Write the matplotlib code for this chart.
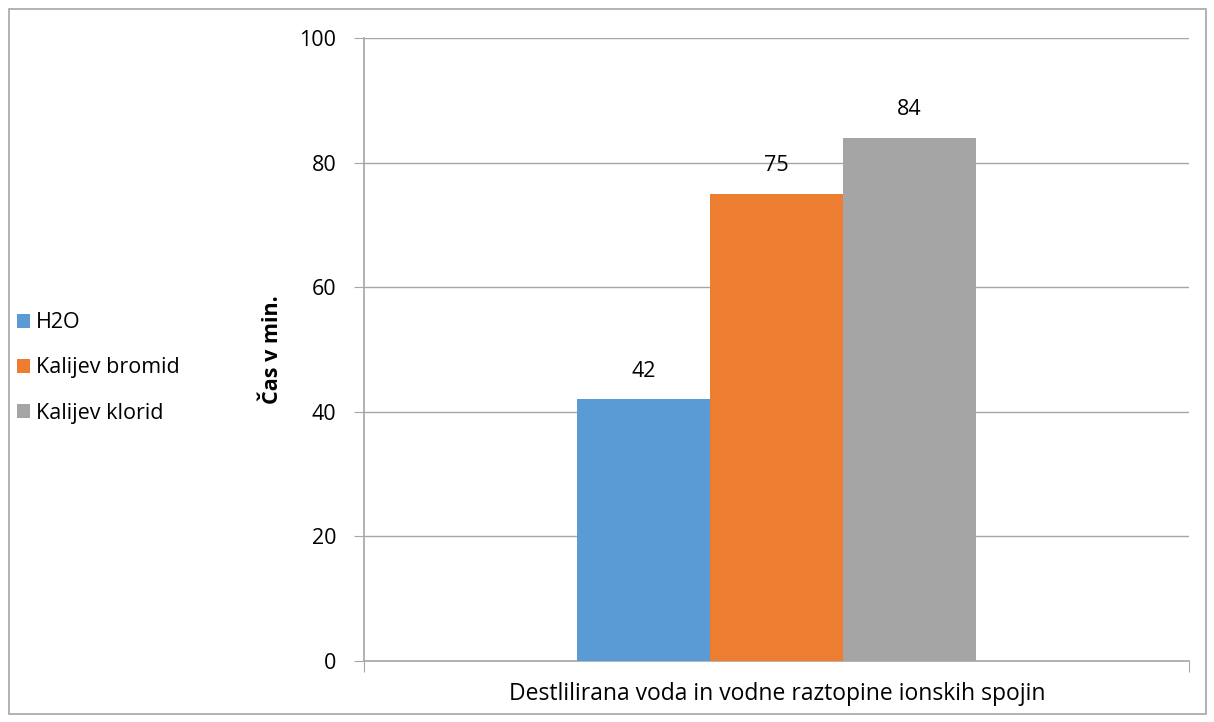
import matplotlib.pyplot as plt
from matplotlib.patches import Rectangle

series = ["H2O", "Kalijev bromid", "Kalijev klorid"]
values = [42, 75, 84]
colors = ["#5b9bd5", "#ed7d31", "#a5a5a5"]
category = "Destlilirana voda in vodne raztopine ionskih spojin"
yticks = [0, 20, 40, 60, 80, 100]

plt.rcParams["font.family"] = ["Open Sans", "DejaVu Sans"]
fs = 15.5

W, H = 1214, 722
fig = plt.figure(figsize=(W / 100, H / 100), dpi=100)
ax = fig.add_axes([364 / W, 1 - 661 / H, (1189 - 364) / W, (661 - 38) / H])

# outer chart border
fig.patches.append(Rectangle((8.5 / W, 8.5 / H), 1 - 17 / W, 1 - 17 / H,
                             transform=fig.transFigure, fill=False,
                             edgecolor="#a6a6a6", lw=1.2))

bw = 0.161
for i, (name, v, c) in enumerate(zip(series, values, colors)):
    x = (i - 1) * bw
    ax.bar(x, v, width=bw, color=c, label=name, zorder=3)
    ax.text(x, v + 4.5, str(v), ha="center", va="center", fontsize=fs)

ax.set_xlim(-0.5, 0.5)
ax.set_ylim(0, 100)
ax.set_yticks(yticks)
ax.tick_params(axis="y", labelsize=fs, length=7, color="#a6a6a6", pad=13)
ax.set_xticks([-0.5, 0.5])
ax.set_xticklabels(["", ""])
ax.tick_params(axis="x", length=8, color="#a6a6a6")
ax.grid(axis="y", color="#a6a6a6", lw=1, zorder=0)
for s in ["top", "right"]:
    ax.spines[s].set_visible(False)
for s in ["left", "bottom"]:
    ax.spines[s].set_color("#a6a6a6")
    ax.spines[s].set_linewidth(1.2)

fig.text(777 / W, 1 - 694 / H, category, ha="center", va="center",
         fontsize=16.5)
fig.text(272 / W, 1 - 350 / H, "Čas v min.", rotation=90,
         ha="center", va="center", fontsize=fs, fontweight="bold")

fig.legend(loc="center left", bbox_to_anchor=(17 / W, 1 - 368 / H),
           frameon=False, fontsize=fs, handlelength=0.6, handleheight=0.6,
           handletextpad=0.3, labelspacing=1.12, borderpad=0, borderaxespad=0)

fig.savefig("out.png", dpi=100)
